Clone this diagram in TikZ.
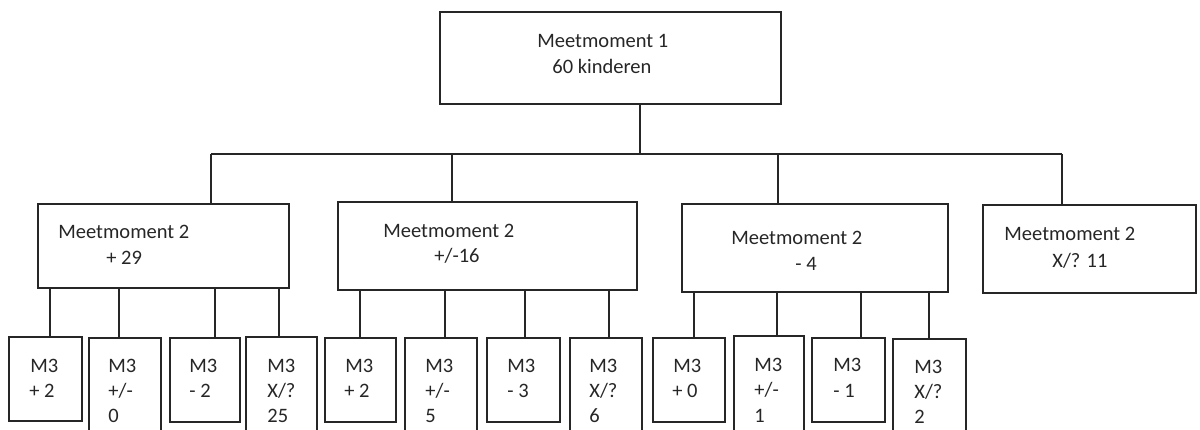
\documentclass[tikz,border=0pt]{standalone}
\usepackage{fontspec}
\setmainfont{Carlito}
\usetikzlibrary{fit}
\definecolor{ink}{HTML}{262626}
\begin{document}
\begin{tikzpicture}[x=0.5pt,y=-0.5pt,
  box/.style={draw=ink, line width=0.8pt, inner sep=0pt},
  lbl/.style={anchor=base west, inner sep=0pt, text=ink, font=\fontsize{10.25pt}{12.5pt}\selectfont},
  wire/.style={draw=ink, line width=0.8pt}]
\useasboundingbox (0,0) rectangle (1200,429);
\clip (0,0) rectangle (1200,429);

% top box
\node[box, fit={(440,12)(781,104)}] (top) {};
\node[lbl] (top-a) at (537,47) {Meetmoment 1};
\node[lbl] (top-b) at (552,73) {60 kinderen};

% level 2 boxes
\node[box, fit={(38,204)(289,288)}] (b1) {};
\node[lbl] (b1-a) at (58,238) {Meetmoment 2};
\node[lbl] (b1-b) at (106,264) {+ 29};

\node[box, fit={(338,202)(637,290)}] (b2) {};
\node[lbl] (b2-a) at (383,237) {Meetmoment 2};
\node[lbl] (b2-b) at (434,262) {+/-16};

\node[box, fit={(682,204)(948,292)}] (b3) {};
\node[lbl] (b3-a) at (731,244) {Meetmoment 2};
\node[lbl] (b3-b) at (795,270) {- 4};

\node[box, fit={(983,205)(1196,293)}] (b4) {};
\node[lbl] (b4-a) at (1004,240) {Meetmoment 2};
\node[lbl] (b4-b) at (1052,267) {X/? 11};

% level 1 -> level 2 connectors
\coordinate (jT) at (640,154);
\coordinate (j1) at (211,154);
\coordinate (j2) at (452,154);
\coordinate (j3) at (778,154);
\coordinate (j4) at (1062,154);
\draw[wire] (top.south -| jT) -- (jT);
\draw[wire] (j1) -- (j4);
\draw[wire] (j1) -- (b1.north -| j1);
\draw[wire] (j2) -- (b2.north -| j2);
\draw[wire] (j3) -- (b3.north -| j3);
\draw[wire] (j4) -- (b4.north -| j4);

% level 3 boxes
\node[box, fit={(9,337)(82,421)}] (c1) {};
\node[box, fit={(89,338)(161,445)}] (c2) {};
\node[box, fit={(170,338)(240,422)}] (c3) {};
\node[box, fit={(246,337)(317,445)}] (c4) {};
\node[box, fit={(325,338)(396,422)}] (c5) {};
\node[box, fit={(405,338)(477,445)}] (c6) {};
\node[box, fit={(487,338)(560,422)}] (c7) {};
\node[box, fit={(570,338)(642,445)}] (c8) {};
\node[box, fit={(653,338)(725,422)}] (c9) {};
\node[box, fit={(734,336)(804,445)}] (c10) {};
\node[box, fit={(812,338)(885,422)}] (c11) {};
\node[box, fit={(893,339)(966,445)}] (c12) {};

% level 2 -> level 3 connectors
\coordinate (d1) at (50,300);
\coordinate (d2) at (119,300);
\coordinate (d3) at (215,300);
\coordinate (d4) at (279,300);
\coordinate (d5) at (360,300);
\coordinate (d6) at (445,300);
\coordinate (d7) at (525,300);
\coordinate (d8) at (609,300);
\coordinate (d9) at (694,300);
\coordinate (d10) at (777,300);
\coordinate (d11) at (861,300);
\coordinate (d12) at (929,300);
\draw[wire] (b1.south -| d1) -- (c1.north -| d1);
\draw[wire] (b1.south -| d2) -- (c2.north -| d2);
\draw[wire] (b1.south -| d3) -- (c3.north -| d3);
\draw[wire] (b1.south -| d4) -- (c4.north -| d4);
\draw[wire] (b2.south -| d5) -- (c5.north -| d5);
\draw[wire] (b2.south -| d6) -- (c6.north -| d6);
\draw[wire] (b2.south -| d7) -- (c7.north -| d7);
\draw[wire] (b2.south -| d8) -- (c8.north -| d8);
\draw[wire] (b3.south -| d9) -- (c9.north -| d9);
\draw[wire] (b3.south -| d10) -- (c10.north -| d10);
\draw[wire] (b3.south -| d11) -- (c11.north -| d11);
\draw[wire] (b3.south -| d12) -- (c12.north -| d12);

% level 3 texts
\node[lbl] (c1-a) at (30,372) {M3};  \node[lbl] (c1-b) at (29,397) {+ 2};
\node[lbl] (c2-a) at (108,372) {M3}; \node[lbl] (c2-b) at (108,397) {+/-}; \node[lbl] (c2-c) at (108,422) {0};
\node[lbl] (c3-a) at (189,372) {M3}; \node[lbl] (c3-b) at (189,397) {- 2};
\node[lbl] (c4-a) at (267,372) {M3}; \node[lbl] (c4-b) at (267,397) {X/?}; \node[lbl] (c4-c) at (267,422) {25};
\node[lbl] (c5-a) at (345,372) {M3}; \node[lbl] (c5-b) at (344,397) {+ 2};
\node[lbl] (c6-a) at (425,372) {M3}; \node[lbl] (c6-b) at (425,397) {+/-}; \node[lbl] (c6-c) at (425,422) {5};
\node[lbl] (c7-a) at (507,372) {M3}; \node[lbl] (c7-b) at (507,397) {- 3};
\node[lbl] (c8-a) at (589,372) {M3}; \node[lbl] (c8-b) at (589,397) {X/?}; \node[lbl] (c8-c) at (589,422) {6};
\node[lbl] (c9-a) at (673,372) {M3}; \node[lbl] (c9-b) at (672,397) {+ 0};
\node[lbl] (c10-a) at (754,371) {M3}; \node[lbl] (c10-b) at (754,396) {+/-}; \node[lbl] (c10-c) at (754,422) {1};
\node[lbl] (c11-a) at (833,371) {M3}; \node[lbl] (c11-b) at (833,397) {- 1};
\node[lbl] (c12-a) at (914,373) {M3}; \node[lbl] (c12-b) at (914,398) {X/?}; \node[lbl] (c12-c) at (914,423) {2};
\end{tikzpicture}
\end{document}
